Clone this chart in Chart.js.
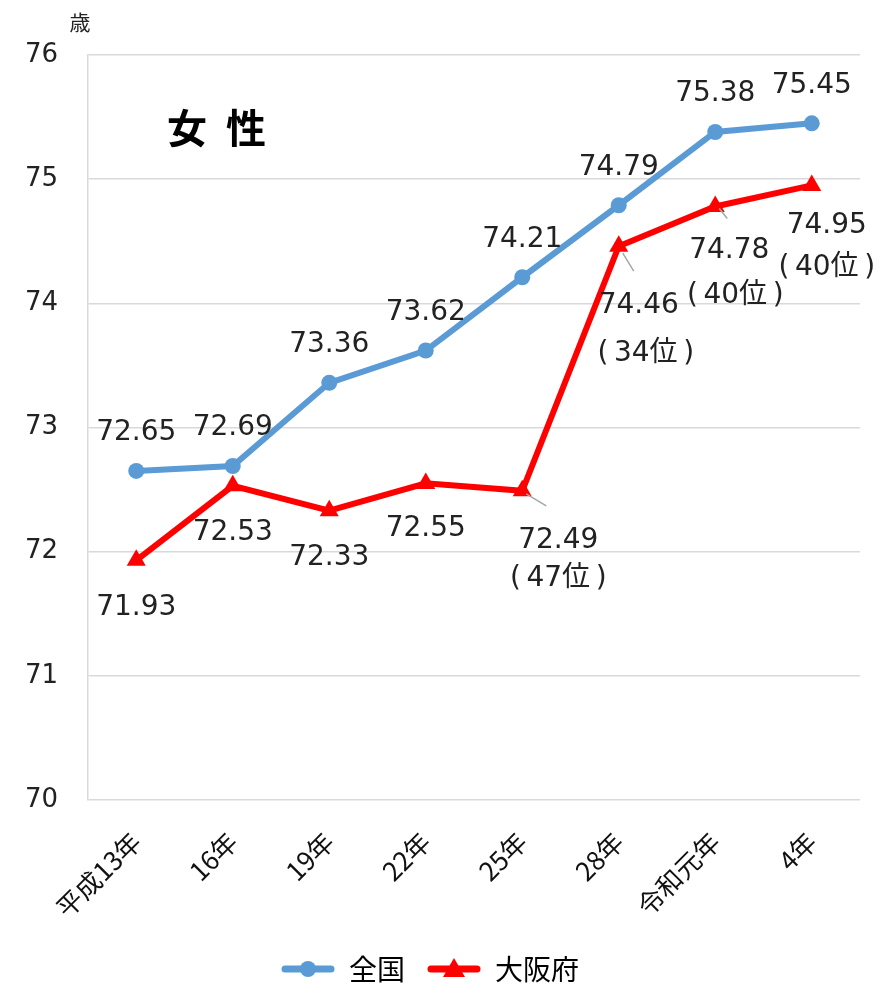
<!DOCTYPE html>
<html lang="ja">
<head>
<meta charset="utf-8">
<script src="https://cdn.jsdelivr.net/npm/chart.js@4.4.1/dist/chart.umd.min.js"></script>
<style>
  html, body { margin: 0; padding: 0; background: #fff; }
  #wrap { width: 889px; height: 993px; position: relative; }
</style>
</head>
<body>
<div id="wrap"><canvas id="c" width="889" height="993"></canvas></div>
<script>
// 健康寿命（女性）の推移：全国と大阪府
const categories = ['平成13年', '16年', '19年', '22年', '25年', '28年', '令和元年', '4年'];
const nationalValues = [72.65, 72.69, 73.36, 73.62, 74.21, 74.79, 75.38, 75.45];
const osakaValues = [71.93, 72.53, 72.33, 72.55, 72.49, 74.46, 74.78, 74.95];
const osakaRanks = [null, null, null, null, 47, 34, 40, 40];
const yTicks = [70, 71, 72, 73, 74, 75, 76];

const BLUE = '#5B9BD5';
const RED = '#FF0000';
const NUM_FONT = '"DejaVu Sans", "Noto Sans CJK JP", sans-serif';
const JP_FONT = '"Noto Sans CJK JP", "DejaVu Sans", sans-serif';

// label placement relative to each point (pixels)
const nationalLabelOffset = { dx: 0, dy: -38 };
const osakaLabelOffsets = [
  { dx: 0, dy: 47 }, { dx: 0, dy: 47 }, { dx: 0, dy: 47 }, { dx: 0, dy: 45 },
  { dx: 36, dy: 50, rdx: 36, rdy: 88 },
  { dx: 20, dy: 60, rdx: 27, rdy: 108 },
  { dx: 14, dy: 44, rdx: 20, rdy: 89 },
  { dx: 15, dy: 40, rdx: 15, rdy: 82 }
];
// short grey leader lines from a point toward its label
const osakaLeaders = { 4: [4, 3, 24, 15], 5: [4, 7, 15, 25], 6: [4, 2, 12, 12] };

function legendIcon(color, shape) {
  const cv = document.createElement('canvas');
  cv.width = 54; cv.height = 24;
  const g = cv.getContext('2d');
  g.strokeStyle = color; g.lineWidth = 7; g.lineCap = 'round';
  g.beginPath(); g.moveTo(4, 12); g.lineTo(50, 12); g.stroke();
  g.fillStyle = color;
  g.beginPath();
  if (shape === 'circle') {
    g.arc(27, 12, 8, 0, Math.PI * 2);
  } else {
    g.moveTo(27, 1); g.lineTo(38, 20); g.lineTo(16, 20); g.closePath();
  }
  g.fill();
  return cv;
}

const valueLabels = {
  id: 'valueLabels',
  afterDatasetsDraw(chart) {
    const ctx = chart.ctx;
    ctx.save();
    ctx.textAlign = 'center';
    ctx.textBaseline = 'middle';
    ctx.fillStyle = '#222';
    // national
    chart.getDatasetMeta(0).data.forEach((pt, i) => {
      ctx.font = '28px ' + NUM_FONT;
      ctx.fillText(nationalValues[i].toFixed(2), pt.x + nationalLabelOffset.dx, pt.y + nationalLabelOffset.dy);
    });
    // Osaka
    chart.getDatasetMeta(1).data.forEach((pt, i) => {
      const o = osakaLabelOffsets[i];
      const ld = osakaLeaders[i];
      if (ld) {
        ctx.strokeStyle = '#A6A6A6';
        ctx.lineWidth = 1.5;
        ctx.beginPath();
        ctx.moveTo(pt.x + ld[0], pt.y + ld[1]);
        ctx.lineTo(pt.x + ld[2], pt.y + ld[3]);
        ctx.stroke();
      }
      ctx.font = '28px ' + NUM_FONT;
      ctx.fillText(osakaValues[i].toFixed(2), pt.x + o.dx, pt.y + o.dy);
      if (osakaRanks[i] !== null) {
        ctx.fillText('(\u2009' + osakaRanks[i] + '位\u2009)', pt.x + o.rdx, pt.y + o.rdy);
      }
    });
    ctx.restore();
  },
  afterDraw(chart) {
    const ctx = chart.ctx;
    ctx.save();
    ctx.fillStyle = '#000';
    ctx.textAlign = 'center';
    ctx.textBaseline = 'middle';
    ctx.font = 'bold 40px ' + JP_FONT;
    ctx.fillText('女', 187, 128);
    ctx.fillText('性', 246, 128);
    ctx.font = '21px ' + JP_FONT;
    ctx.fillStyle = '#222';
    ctx.fillText('歳', 80, 22);
    ctx.restore();
  }
};

new Chart(document.getElementById('c'), {
  type: 'line',
  data: {
    labels: categories,
    datasets: [
      {
        label: '全国',
        data: nationalValues,
        borderColor: BLUE,
        backgroundColor: BLUE,
        borderWidth: 6,
        pointStyle: 'circle',
        pointRadius: 8,
        pointBorderWidth: 0,
        tension: 0
      },
      {
        label: '大阪府',
        data: osakaValues,
        borderColor: RED,
        backgroundColor: RED,
        borderWidth: 6,
        pointStyle: 'triangle',
        pointRadius: 11,
        pointBorderWidth: 0,
        tension: 0
      }
    ]
  },
  options: {
    responsive: false,
    animation: false,
    layout: { padding: { top: 55, right: 29, left: 0, bottom: 0 } },
    scales: {
      x: {
        offset: true,
        grid: { display: false, drawTicks: false },
        border: { display: false },
        ticks: {
          color: '#111',
          font: { family: JP_FONT, size: 26 },
          minRotation: 45, maxRotation: 45,
          padding: 26
        },
        afterFit(scale) { scale.height = 133; }
      },
      y: {
        min: 70, max: 76,
        afterBuildTicks(scale) { scale.ticks = yTicks.map(v => ({ value: v })); },
        grid: { color: '#D9D9D9', lineWidth: 1.5, drawTicks: false },
        border: { display: true, color: '#D9D9D9', width: 1.5 },
        ticks: {
          color: '#222',
          font: { family: NUM_FONT, size: 26 },
          padding: 30
        },
        afterFit(scale) { scale.width = 88; }
      }
    },
    plugins: {
      tooltip: { enabled: false },
      legend: {
        position: 'bottom',
        labels: {
          usePointStyle: true,
          pointStyleWidth: 54,
          boxHeight: 24,
          padding: 22,
          color: '#111',
          font: { family: JP_FONT, size: 28 },
          generateLabels(chart) {
            return [
              { text: '全国', pointStyle: legendIcon(BLUE, 'circle'), fillStyle: BLUE, strokeStyle: BLUE, lineWidth: 0, datasetIndex: 0 },
              { text: '大阪府', pointStyle: legendIcon(RED, 'triangle'), fillStyle: RED, strokeStyle: RED, lineWidth: 0, datasetIndex: 1 }
            ];
          }
        }
      }
    }
  },
  plugins: [valueLabels]
});
</script>
</body>
</html>
